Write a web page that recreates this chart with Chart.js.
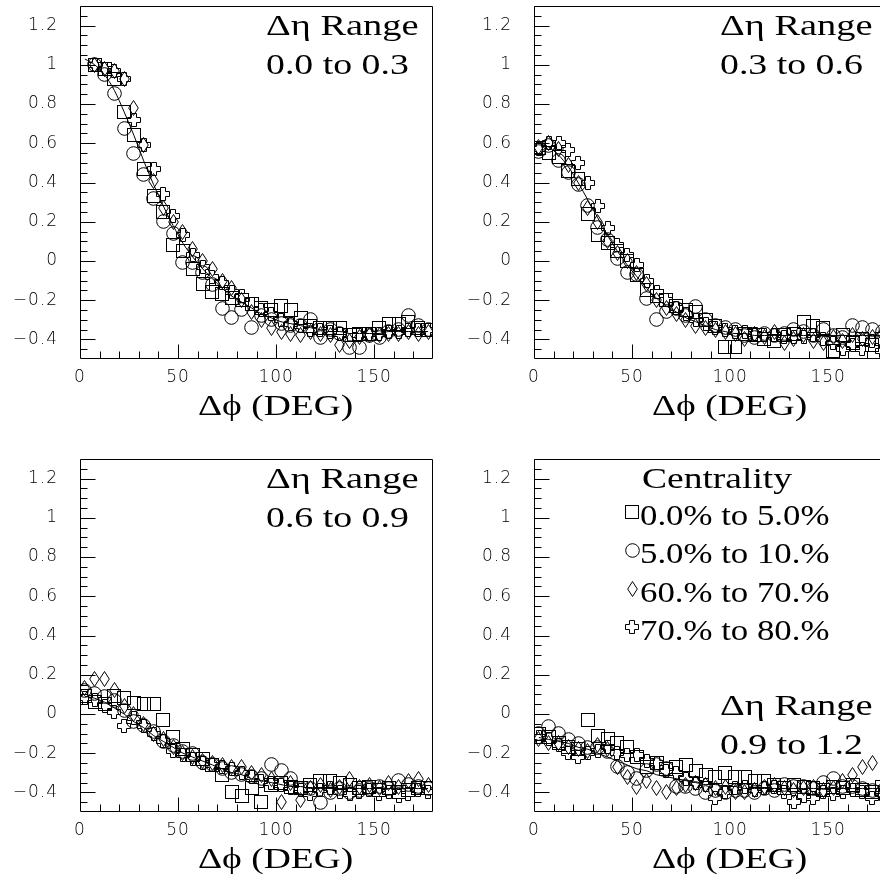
<!DOCTYPE html>
<html><head><meta charset="utf-8">
<script src="https://cdn.jsdelivr.net/npm/chart.js@4.4.1/dist/chart.umd.min.js"></script>
<style>
html,body{margin:0;padding:0;background:#fff;overflow:hidden;width:880px;height:878px;}
#wrap{position:relative;width:880px;height:878px;overflow:hidden;background:#fff;}
canvas{position:absolute;}
</style></head><body><div id="wrap">
<canvas id="c1" width="440" height="440" style="left:0px;top:0px"></canvas>
<canvas id="c2" width="440" height="440" style="left:454px;top:0px"></canvas>
<canvas id="c3" width="440" height="440" style="left:0px;top:453px"></canvas>
<canvas id="c4" width="440" height="440" style="left:454px;top:453px"></canvas>
</div>
<script>
// ---------------- data ----------------
const dphi = [2.5,7.5,12.5,17.5,22.5,27.5,32.5,37.5,42.5,47.5,52.5,57.5,62.5,67.5,72.5,77.5,82.5,87.5,92.5,97.5,102.5,107.5,112.5,117.5,122.5,127.5,132.5,137.5,142.5,147.5,152.5,157.5,162.5,167.5,172.5,177.5];

const centralityLabels = ['0.0% to 5.0%','5.0% to 10.%','60.% to 70.%','70.% to 80.%'];
const etaRanges = ['0.0 to 0.3','0.3 to 0.6','0.6 to 0.9','0.9 to 1.2'];

const yTickVals = [-0.4,-0.2,0,0.2,0.4,0.6,0.8,1,1.2];
const yTickLabels = ['\u22120.4','\u22120.2','0','0.2','0.4','0.6','0.8','1','1.2'];
const xTickVals = [0,50,100,150];
const xTickLabels = ['0','50','100','150'];

// panel 1 : deta 0.0-0.3
const p1c0005 = [null,1.0,0.98,0.93,0.76,0.64,0.47,0.33,0.25,0.08,0.05,-0.04,-0.12,-0.16,-0.17,-0.19,-0.2,-0.22,-0.24,-0.25,-0.23,-0.25,-0.29,-0.33,-0.34,-0.34,-0.34,-0.38,-0.37,-0.37,-0.34,-0.32,-0.32,-0.31,-0.34,-0.35];
const p1c0510 = [null,1.0,0.95,0.855,0.675,0.55,0.44,0.32,0.2,0.14,-0.01,-0.01,-0.06,-0.12,-0.24,-0.29,-0.25,-0.34,-0.28,-0.3,-0.32,-0.33,-0.33,-0.3,-0.39,-0.35,-0.37,-0.44,-0.44,-0.38,-0.39,-0.36,-0.35,-0.28,-0.33,-0.35];
const p1c6070 = [null,1.0,0.98,0.97,0.93,0.78,0.59,0.41,0.27,0.2,0.15,0.06,0.0,-0.04,-0.1,-0.14,-0.2,-0.26,-0.3,-0.34,-0.36,-0.37,-0.38,-0.36,-0.37,-0.38,-0.43,-0.41,-0.39,-0.38,-0.38,-0.37,-0.37,-0.36,-0.37,-0.36];
const p1c7080 = [null,1.0,0.98,0.97,0.93,0.72,0.59,0.47,0.34,0.23,0.13,0.03,-0.03,-0.08,-0.11,-0.16,-0.18,-0.22,-0.25,-0.27,-0.3,-0.32,-0.33,-0.35,-0.35,-0.36,-0.37,-0.38,-0.38,-0.37,-0.37,-0.36,-0.36,-0.35,-0.35,-0.35];
const p1fit = [1.03,1.0,0.95,0.87,0.76,0.64,0.51,0.39,0.28,0.18,0.09,0.02,-0.04,-0.09,-0.14,-0.18,-0.21,-0.24,-0.27,-0.29,-0.31,-0.32,-0.33,-0.34,-0.35,-0.36,-0.36,-0.37,-0.37,-0.37,-0.37,-0.36,-0.36,-0.36,-0.36,-0.36];

// panel 2 : deta 0.3-0.6
const p2c0005 = [0.575,0.55,0.53,0.46,0.42,0.24,0.13,0.09,0.05,0.0,-0.07,-0.15,-0.18,-0.2,-0.23,-0.25,-0.26,-0.3,-0.33,-0.44,-0.44,-0.37,-0.38,-0.4,-0.41,-0.38,-0.37,-0.31,-0.33,-0.34,-0.46,-0.38,-0.42,-0.4,-0.43,-0.4];
const p2c0510 = [0.56,0.59,0.51,0.45,0.39,0.285,0.17,0.107,0.015,-0.06,-0.07,-0.19,-0.3,-0.26,-0.24,-0.28,-0.23,-0.3,-0.33,-0.34,-0.35,-0.38,-0.39,-0.37,-0.38,-0.37,-0.35,-0.36,-0.38,-0.35,-0.38,-0.39,-0.33,-0.34,-0.35,-0.36];
const p2c6070 = [0.58,0.6,0.57,0.49,0.4,0.27,0.2,0.1,0.04,0.0,-0.06,-0.12,-0.2,-0.24,-0.27,-0.3,-0.33,-0.34,-0.35,-0.36,-0.37,-0.4,-0.37,-0.39,-0.36,-0.42,-0.4,-0.38,-0.41,-0.42,-0.39,-0.41,-0.38,-0.4,-0.39,-0.37];
const p2c7080 = [0.57,0.6,0.6,0.565,0.5,0.4,0.28,0.17,0.08,0.03,-0.02,-0.1,-0.16,-0.2,-0.24,-0.27,-0.3,-0.32,-0.34,-0.35,-0.36,-0.36,-0.37,-0.38,-0.38,-0.39,-0.39,-0.39,-0.38,-0.4,-0.42,-0.45,-0.43,-0.45,-0.41,-0.46];
const p2fit = [0.6,0.58,0.54,0.48,0.4,0.31,0.22,0.13,0.05,-0.02,-0.08,-0.14,-0.19,-0.23,-0.26,-0.29,-0.31,-0.33,-0.35,-0.36,-0.37,-0.37,-0.38,-0.38,-0.38,-0.38,-0.38,-0.38,-0.38,-0.38,-0.38,-0.38,-0.38,-0.38,-0.38,-0.38];

// panel 3 : deta 0.6-0.9
const p3c0005 = [0.09,0.06,0.05,0.09,0.08,0.055,0.05,0.05,-0.03,-0.12,-0.18,-0.21,-0.23,-0.26,-0.31,-0.4,-0.42,-0.38,-0.45,-0.36,-0.35,-0.37,-0.38,-0.36,-0.34,-0.34,-0.35,-0.36,-0.38,-0.37,-0.39,-0.38,-0.4,-0.39,-0.38,-0.38];
const p3c0510 = [0.12,0.105,0.09,0.07,0.02,-0.04,-0.06,-0.09,-0.14,-0.16,-0.19,-0.2,-0.25,-0.26,-0.28,-0.3,-0.31,-0.32,-0.33,-0.26,-0.29,-0.33,-0.38,-0.38,-0.45,-0.4,-0.38,-0.4,-0.39,-0.38,-0.37,-0.38,-0.34,-0.36,-0.37,-0.38];
const p3c6070 = [0.13,0.18,0.18,0.12,0.04,0.0,-0.05,-0.1,-0.13,-0.17,-0.2,-0.22,-0.24,-0.25,-0.26,-0.27,-0.27,-0.3,-0.31,-0.33,-0.45,-0.35,-0.44,-0.38,-0.36,-0.39,-0.37,-0.33,-0.37,-0.36,-0.38,-0.35,-0.37,-0.34,-0.33,-0.36];
const p3c7080 = [0.08,0.07,0.04,0.01,-0.06,-0.02,-0.06,-0.1,-0.14,-0.19,-0.21,-0.23,-0.25,-0.26,-0.27,-0.28,-0.3,-0.32,-0.34,-0.35,-0.36,-0.38,-0.39,-0.41,-0.39,-0.38,-0.4,-0.41,-0.4,-0.39,-0.41,-0.4,-0.42,-0.41,-0.39,-0.4];
const p3fit = [0.09,0.08,0.06,0.03,0.0,-0.04,-0.07,-0.11,-0.14,-0.17,-0.2,-0.22,-0.24,-0.26,-0.28,-0.3,-0.31,-0.33,-0.34,-0.35,-0.36,-0.37,-0.37,-0.38,-0.38,-0.38,-0.38,-0.38,-0.38,-0.38,-0.38,-0.38,-0.38,-0.38,-0.38,-0.38];

// panel 4 : deta 0.9-1.2
const p4c0005 = [-0.1,-0.12,-0.15,-0.17,-0.18,-0.03,-0.11,-0.13,-0.15,-0.17,-0.22,-0.27,-0.25,-0.28,-0.27,-0.26,-0.29,-0.31,-0.32,-0.3,-0.32,-0.32,-0.34,-0.34,-0.36,-0.38,-0.36,-0.37,-0.38,-0.39,-0.37,-0.38,-0.36,-0.39,-0.4,-0.37];
const p4c0510 = [-0.1,-0.065,-0.1,-0.13,-0.15,-0.17,-0.17,-0.19,-0.27,-0.3,-0.33,-0.29,-0.26,-0.28,-0.37,-0.37,-0.38,-0.4,-0.39,-0.4,-0.39,-0.39,-0.4,-0.38,-0.39,-0.36,-0.37,-0.37,-0.38,-0.35,-0.33,-0.37,-0.37,-0.38,-0.39,-0.4];
const p4c6070 = [-0.13,-0.15,-0.15,-0.17,-0.18,-0.19,-0.16,-0.18,-0.27,-0.32,-0.37,-0.34,-0.38,-0.4,-0.38,-0.36,-0.35,-0.36,-0.38,-0.37,-0.4,-0.4,-0.39,-0.37,-0.36,-0.38,-0.39,-0.38,-0.37,-0.39,-0.38,-0.34,-0.31,-0.27,-0.25,-0.38];
const p4c7080 = [-0.12,-0.13,-0.16,-0.2,-0.22,-0.2,-0.19,-0.17,-0.2,-0.21,-0.21,-0.24,-0.25,-0.29,-0.3,-0.33,-0.35,-0.36,-0.43,-0.4,-0.38,-0.37,-0.39,-0.38,-0.37,-0.4,-0.45,-0.42,-0.43,-0.4,-0.41,-0.4,-0.39,-0.4,-0.43,-0.41];
const p4fit = [-0.12,-0.13,-0.14,-0.15,-0.17,-0.18,-0.2,-0.22,-0.24,-0.26,-0.28,-0.29,-0.31,-0.32,-0.33,-0.34,-0.35,-0.36,-0.36,-0.37,-0.37,-0.38,-0.38,-0.38,-0.38,-0.38,-0.38,-0.38,-0.38,-0.38,-0.38,-0.38,-0.38,-0.38,-0.38,-0.38];

// ---------------- markers (style) ----------------
function mk(w,h,draw){const c=document.createElement('canvas');c.width=w;c.height=h;const g=c.getContext('2d');g.strokeStyle='#000';g.lineWidth=1;draw(g);return c;}
const mSquare = mk(14,14,g=>g.strokeRect(0.5,0.5,13,13));
const mCircle = mk(15,15,g=>{g.beginPath();g.arc(7.5,7.5,6.8,0,Math.PI*2);g.stroke();});
const mDiamond = mk(11,16,g=>{g.beginPath();g.moveTo(5.5,0.5);g.lineTo(10.3,8);g.lineTo(5.5,15.5);g.lineTo(0.7,8);g.closePath();g.stroke();});
const mCross = mk(14,14,g=>{const s=0.5,a=4.5,b=9.5,e=13.5;g.beginPath();g.moveTo(a,s);g.lineTo(b,s);g.lineTo(b,a);g.lineTo(e,a);g.lineTo(e,b);g.lineTo(b,b);g.lineTo(b,e);g.lineTo(a,e);g.lineTo(a,b);g.lineTo(s,b);g.lineTo(s,a);g.lineTo(a,a);g.closePath();g.stroke();});
const markers = [mSquare,mCircle,mDiamond,mCross];

const pts = ys => dphi.map((x,i)=>({x:x,y:ys[i]})).filter(p=>p.y!==null);

const SERIF = '"Liberation Serif","Times New Roman",serif';
function stretchText(ctx, text, x, y, sx){
  ctx.save(); ctx.translate(x,y); ctx.scale(sx,1); ctx.fillText(text,0,0); ctx.restore();
}

const framePlugin = {
  id:'frameTicks',
  beforeDraw(chart){ chart.ctx.letterSpacing='1px'; chart.ctx.imageSmoothingEnabled=false; },
  afterDraw(chart, args, opts){
    const {ctx, chartArea:a, scales:{x,y}} = chart;
    ctx.save();
    ctx.letterSpacing='0px';
    ctx.strokeStyle='#000'; ctx.lineWidth=1;
    const L=Math.round(a.left)+0.5, R=Math.round(a.right)-0.5, T=Math.round(a.top)+0.5, B=Math.round(a.bottom)-0.5;
    ctx.beginPath();
    ctx.rect(L,T,R-L,B-T);
    for(let k=-10;k<=26;k++){
      const v=k*0.05; const p=Math.round(y.getPixelForValue(v))+0.5;
      if(p<T||p>B) continue;
      const len = ((k+8)%4===0) ? 15 : 7;
      ctx.moveTo(L,p); ctx.lineTo(L+len,p);
    }
    for(let k=1;k<=17;k++){
      const v=k*10; const p=Math.round(x.getPixelForValue(v))+0.5;
      const len = (v%50===0) ? 14 : 7;
      ctx.moveTo(p,B); ctx.lineTo(p,B-len);
    }
    ctx.stroke();
    ctx.fillStyle='#000';
    ctx.font='30px '+SERIF;
    ctx.textBaseline='alphabetic';
    ctx.textAlign='left';
    stretchText(ctx,'\u0394\u03d5 (DEG)',198,415,1.25);
    stretchText(ctx,'\u0394\u03b7 Range',266,opts.etaY,1.28);
    stretchText(ctx,opts.eta,266,opts.etaY+39,1.26);
    if(opts.legend){
      stretchText(ctx,'Centrality',188,35,1.25);
      const ys=[72,110,149,187];
      centralityLabels.forEach((s,i)=>{
        stretchText(ctx,s,186,ys[i],1.16);
        const m=markers[i];
        ctx.drawImage(m,Math.round(178-m.width/2),Math.round(ys[i]-13-m.height/2));
      });
    }
    ctx.restore();
  }
};

function makeChart(id, series, fit, eta, etaY, legend){
  const ds = series.map((s,i)=>({
    data: pts(s), pointStyle: markers[i], pointRadius: 4, showLine:false,
    borderColor:'#000', backgroundColor:'rgba(0,0,0,0)'
  }));
  ds.push({data: pts(fit), showLine:true, pointRadius:0, borderColor:'#000', borderWidth:1, cubicInterpolationMode:'monotone', fill:false});
  return new Chart(document.getElementById(id), {
    type:'scatter',
    data:{datasets:ds},
    options:{
      responsive:false, animation:false, devicePixelRatio:1,
      layout:{padding:{top:6,right:7,left:0,bottom:0}},
      plugins:{legend:{display:false}, tooltip:{enabled:false}, frameTicks:{eta:eta, etaY:etaY, legend:legend}},
      scales:{
        x:{type:'linear', min:0, max:180,
           afterFit(s){s.height=81; s.paddingLeft=0; s.paddingRight=0;},
           afterBuildTicks(s){s.ticks=xTickVals.map(v=>({value:v}));},
           grid:{display:false, drawTicks:false}, border:{display:false},
           ticks:{padding:8, autoSkip:false, maxRotation:0, color:'#000',
                  font:{family:'"DejaVu Sans","Liberation Sans",sans-serif', size:17, weight:200},
                  callback:(v,i)=>xTickLabels[i]}},
        y:{type:'linear', min:-0.5, max:1.3,
           afterFit(s){s.width=80; s.paddingTop=0; s.paddingBottom=0;},
           afterBuildTicks(s){s.ticks=yTickVals.map(v=>({value:v}));},
           grid:{display:false, drawTicks:false}, border:{display:false},
           ticks:{padding:22, color:'#000',
                  font:{family:'"DejaVu Sans","Liberation Sans",sans-serif', size:17, weight:200},
                  callback:(v,i)=>yTickLabels[i]}}
      }
    },
    plugins:[framePlugin]
  });
}

makeChart('c1',[p1c0005,p1c0510,p1c6070,p1c7080],p1fit,etaRanges[0],35,false);
makeChart('c2',[p2c0005,p2c0510,p2c6070,p2c7080],p2fit,etaRanges[1],35,false);
makeChart('c3',[p3c0005,p3c0510,p3c6070,p3c7080],p3fit,etaRanges[2],35,false);
makeChart('c4',[p4c0005,p4c0510,p4c6070,p4c7080],p4fit,etaRanges[3],262,true);
</script>
</body></html>
